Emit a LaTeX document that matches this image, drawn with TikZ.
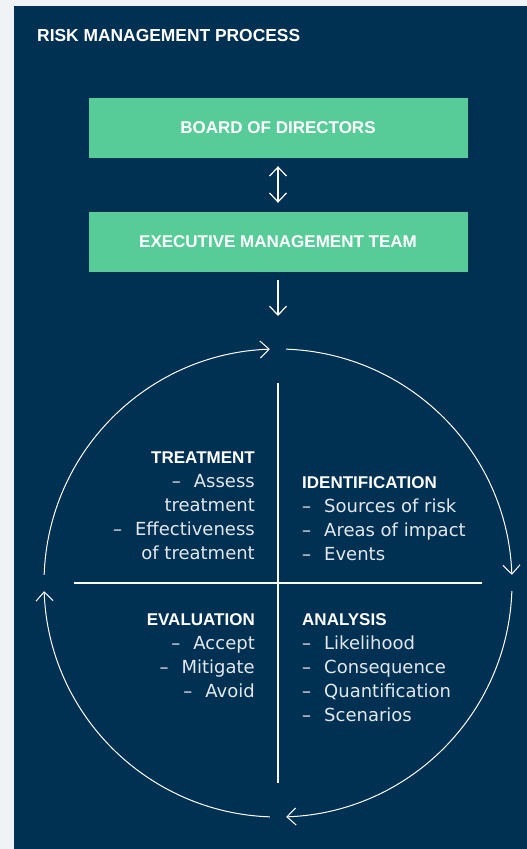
\documentclass[tikz,border=0pt]{standalone}
\usepackage{fontspec}
\setmainfont{DejaVu Sans}
\newfontfamily\headfont{Liberation Sans}
\usetikzlibrary{positioning,arrows.meta}
\definecolor{navy}{HTML}{003052}
\definecolor{mint}{HTML}{57CC99}
\definecolor{paper}{HTML}{F0F3F5}
\definecolor{soft}{HTML}{E2E8EE}
\newcommand{\itm}[1]{\makebox[22pt][l]{–}#1}

\begin{document}
\begin{tikzpicture}[x=1pt,y=1pt,>={Straight Barb[length=9pt,width=17pt]},
  head/.style={text=white,inner sep=0pt,font=\headfont\fontsize{17}{20}\selectfont\bfseries},
  item/.style={text=soft,inner sep=0pt,font=\fontsize{18}{24}\selectfont},
  tier/.style={fill=mint,minimum width=379pt,minimum height=60pt,inner sep=0pt,
    text=white,font=\headfont\fontsize{17}{20}\selectfont\bfseries},
  flow/.style={draw=white,line width=1.2pt}]
% page and panel
\useasboundingbox (0,0) rectangle (527,-849);
\fill[paper] (0,0) rectangle (527,-849);
\fill[navy] (14,-6) rectangle (527,-849);

\node[head,anchor=base west,font=\headfont\fontsize{17.4}{20}\selectfont\bfseries] (title) at (37,-41) {RISK MANAGEMENT PROCESS};

% governance
\node[tier] (board) at (278,-128) {BOARD OF DIRECTORS};
\node[tier] (exec) at (278,-242) {EXECUTIVE MANAGEMENT TEAM};
\coordinate (entry) at (278,-316);
\draw[flow,<->,shorten <=8pt,shorten >=9pt] (board) -- (exec);
\draw[flow,->,shorten <=8pt] (exec) -- (entry);

% the cycle
\coordinate (hub) at (278,-583);
\foreach \a in {178,88,-2,-92}
  \draw[flow,line width=1pt,->] ([shift={(\a:234)}]hub) arc[start angle=\a,delta angle=-86,radius=234];
\draw[flow] ([yshift=200pt]hub) -- ([yshift=-200pt]hub);
\draw[flow] ([xshift=-204pt]hub) -- ([xshift=204pt]hub);

% quadrants
\node[head,anchor=base east] (treat) at (255,-463) {TREATMENT};
\foreach \t [count=\i] in {\itm{Assess},treatment,\itm{Effectiveness},of treatment}
  \node[item,anchor=base east] (treat-\i) at ([yshift=-24*\i pt]treat.base east) {\t};

\node[head,anchor=base west] (ident) at (302,-488) {IDENTIFICATION};
\foreach \t [count=\i] in {\itm{Sources of risk},\itm{Areas of impact},\itm{Events}}
  \node[item,anchor=base west] (ident-\i) at ([yshift=-24*\i pt]ident.base west) {\t};

\node[head,anchor=base east] (eval) at (255,-625) {EVALUATION};
\foreach \t [count=\i] in {\itm{Accept},\itm{Mitigate},\itm{Avoid}}
  \node[item,anchor=base east] (eval-\i) at ([yshift=-24*\i pt]eval.base east) {\t};

\node[head,anchor=base west] (anal) at (302,-625) {ANALYSIS};
\foreach \t [count=\i] in {\itm{Likelihood},\itm{Consequence},\itm{Quantification},\itm{Scenarios}}
  \node[item,anchor=base west] (anal-\i) at ([yshift=-24*\i pt]anal.base west) {\t};
\end{tikzpicture}
\end{document}
